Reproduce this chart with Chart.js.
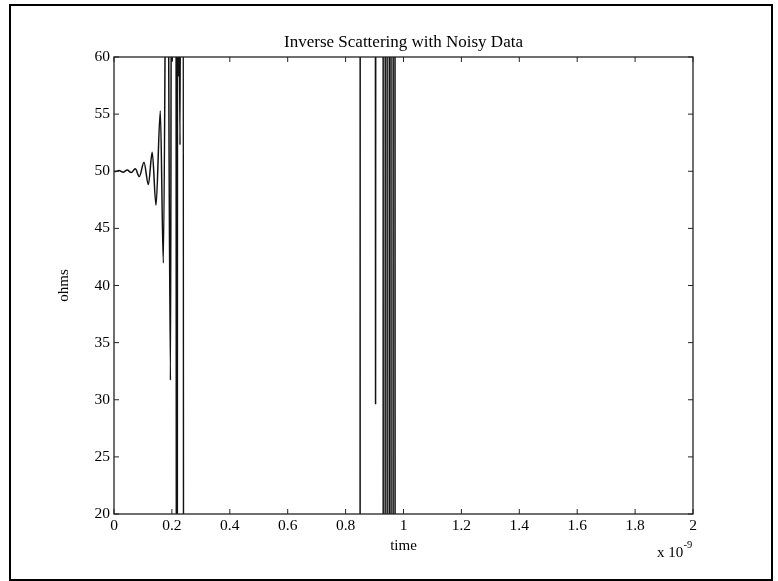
<!DOCTYPE html>
<html lang="en">
<head>
    <meta charset="UTF-8">
    <title>Inverse Scattering with Noisy Data</title>
    <style>
        body {
            margin: 0;
            padding: 0;
            background-color: #fff;
        }
        .chart-box {
            width: 778px;
            height: 581px;
        }
    </style>
</head>
<body>
    <div class="chart-box">
        <canvas id="scatterChart" width="778" height="581"></canvas>
    </div>

    <script src="https://cdn.jsdelivr.net/npm/chart.js"></script>
    <script>
        // time is in units of 1e-9 s (hence the "x 10^-9" under the axis)
        // values of 200 / -200 are off the plotted range, the line leaves the box there
        const time = [
            0, 0.0035, 0.0175, 0.0315, 0.0455, 0.0595, 0.0735, 0.0875,
            0.1036, 0.1186, 0.132, 0.1451, 0.160, 0.1704, 0.1835,
            0.195, 0.1985, 0.2014, 0.2045, 0.214, 0.2175, 0.2195,
            0.2212, 0.2228, 0.2245, 0.228, 0.2315, 0.239, 0.2425,
            0.5, 0.849, 0.851, 0.901, 0.9035, 0.906,
            0.929, 0.931, 0.9355, 0.9375, 0.9427, 0.9447, 0.9496, 0.9516,
            0.9562, 0.9582, 0.963, 0.965, 0.970, 0.972, 2.0
        ];
        const ohms = [
            50.0, 49.97, 50.06, 49.92, 50.1, 49.88, 50.22, 49.53,
            50.79, 48.83, 51.66, 47.02, 55.28, 41.97, 85,
            31.7, 72, 59.6, 90, 90, -100, 90,
            66, 58.3, 70, 52.3, 90, 90, -200,
            -200, -200, 200, 200, 29.6, 200,
            200, -200, -200, 200, 200, -200, -200, 200,
            200, -200, -200, 200, 200, -200, -200
        ];
        const xTicks = [0, 0.2, 0.4, 0.6, 0.8, 1, 1.2, 1.4, 1.6, 1.8, 2];
        const yTicks = [20, 25, 30, 35, 40, 45, 50, 55, 60];

        const serif = 'Liberation Serif, Times New Roman, serif';

        // box, inward ticks and the text around the axes (matlab look)
        const framePlugin = {
            id: 'frame',
            beforeDraw(chart) {
                const ctx = chart.ctx;
                ctx.save();
                ctx.fillStyle = '#fff';
                ctx.fillRect(0, 0, chart.width, chart.height);
                ctx.restore();
            },
            afterDraw(chart) {
                const { ctx, chartArea: a, scales } = chart;
                ctx.save();

                // outer border of the figure
                ctx.strokeStyle = '#000';
                ctx.lineWidth = 2;
                ctx.strokeRect(10, 5, 762, 575);

                // axes box
                ctx.strokeStyle = '#222';
                ctx.lineWidth = 1.3;
                ctx.strokeRect(a.left, a.top, a.width, a.height);

                // ticks pointing inside, on all four sides
                const len = 5;
                ctx.lineWidth = 1;
                ctx.beginPath();
                xTicks.forEach(v => {
                    const px = scales.x.getPixelForValue(v);
                    ctx.moveTo(px, a.bottom);
                    ctx.lineTo(px, a.bottom - len);
                    ctx.moveTo(px, a.top);
                    ctx.lineTo(px, a.top + len);
                });
                yTicks.forEach(v => {
                    const py = scales.y.getPixelForValue(v);
                    ctx.moveTo(a.left, py);
                    ctx.lineTo(a.left + len, py);
                    ctx.moveTo(a.right, py);
                    ctx.lineTo(a.right - len, py);
                });
                ctx.stroke();

                ctx.fillStyle = '#000';
                ctx.textBaseline = 'alphabetic';

                // title
                ctx.font = '17px ' + serif;
                ctx.textAlign = 'center';
                ctx.fillText('Inverse Scattering with Noisy Data', (a.left + a.right) / 2, 47);

                // x label
                ctx.font = '15px ' + serif;
                ctx.fillText('time', (a.left + a.right) / 2, 550);

                // exponent
                ctx.textAlign = 'left';
                ctx.fillText('x 10', 657, 557);
                ctx.font = '10.5px ' + serif;
                ctx.fillText('-9', 683.5, 548);

                // y label
                ctx.font = '15px ' + serif;
                ctx.translate(68, (a.top + a.bottom) / 2);
                ctx.rotate(-Math.PI / 2);
                ctx.textAlign = 'center';
                ctx.fillText('ohms', 0, 0);

                ctx.restore();
            }
        };

        const ctx = document.getElementById('scatterChart').getContext('2d');
        const chart = new Chart(ctx, {
            type: 'line',
            data: {
                datasets: [{
                    data: time.map((t, i) => ({ x: t, y: ohms[i] })),
                    borderColor: '#111',
                    borderWidth: 1.5,
                    pointRadius: 0,
                    fill: false,
                    cubicInterpolationMode: 'monotone',
                    capBezierPoints: false
                }]
            },
            options: {
                responsive: false,
                animation: false,
                devicePixelRatio: 1,
                layout: {
                    padding: { left: 74, right: 85, top: 57, bottom: 37 }
                },
                plugins: {
                    legend: { display: false },
                    tooltip: { enabled: false },
                    title: { display: false }
                },
                scales: {
                    x: {
                        type: 'linear',
                        min: 0,
                        max: 2,
                        grid: { display: false, drawTicks: false },
                        border: { display: false },
                        afterBuildTicks: scale => { scale.ticks = xTicks.map(v => ({ value: v })); },
                        afterFit: scale => { scale.height = 30; },
                        ticks: {
                            autoSkip: false,
                            maxRotation: 0,
                            padding: 3,
                            color: '#000',
                            font: { family: serif, size: 15.5 },
                            callback: v => String(v)
                        }
                    },
                    y: {
                        min: 20,
                        max: 60,
                        grid: { display: false, drawTicks: false },
                        border: { display: false },
                        afterBuildTicks: scale => { scale.ticks = yTicks.map(v => ({ value: v })); },
                        afterFit: scale => { scale.width = 40; },
                        ticks: {
                            autoSkip: false,
                            padding: 4,
                            color: '#000',
                            font: { family: serif, size: 15.5 },
                            callback: v => String(v)
                        }
                    }
                }
            },
            plugins: [framePlugin]
        });
    </script>
</body>
</html>
